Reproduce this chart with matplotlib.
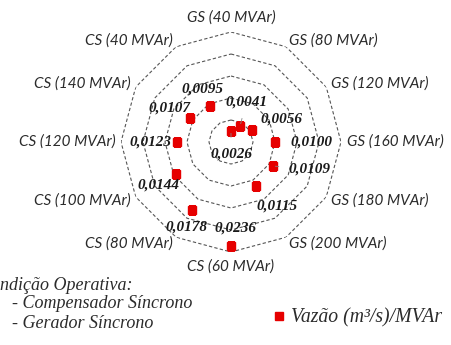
import matplotlib.pyplot as plt
import numpy as np

categories = ['GS (40 MVAr)', 'GS (80 MVAr)', 'GS (120 MVAr)', 'GS (160 MVAr)',
              'GS (180 MVAr)', 'GS (200 MVAr)', 'CS (60 MVAr)', 'CS (80 MVAr)',
              'CS (100 MVAr)', 'CS (120 MVAr)', 'CS (140 MVAr)', 'CS (40 MVAr)']
vazao = [0.0026, 0.0041, 0.0056, 0.0100, 0.0109, 0.0115,
         0.0236, 0.0178, 0.0144, 0.0123, 0.0107, 0.0095]
value_labels = ['0,0026', '0,0041', '0,0056', '0,0100', '0,0109', '0,0115',
                '0,0236', '0,0178', '0,0144', '0,0123', '0,0107', '0,0095']
ring_levels = [0.005, 0.010, 0.015, 0.020, 0.025]

# label offsets in pixels from each marker (dx, dy), and which get a leader line
label_offsets = [(0, -23), (6, 24), (29, 11), (36, 0), (37, -3), (21, -20),
                 (4, 18), (-5, -17), (-18, -11), (-26, 0), (-21, 10), (-8, 17)]
leaders = [True, True, False, False, True, False,
           False, False, False, False, False, False]

W, H = 452, 345
fig = plt.figure(figsize=(W / 100, H / 100), dpi=100)
cx, cy, R = 231, 142, 110
ax = fig.add_axes([(cx - R) / W, (H - cy - R) / H, 2 * R / W, 2 * R / H], projection='polar')
ax.set_theta_offset(np.pi / 2)
ax.set_theta_direction(-1)
ax.set_ylim(0, 0.025)
ax.grid(False)
ax.set_xticks([])
ax.set_yticks([])
ax.spines['polar'].set_visible(False)
ax.patch.set_visible(False)

n = len(categories)
angles = np.arange(n) * 2 * np.pi / n
closed = np.append(angles, angles[0])

for lv in ring_levels:
    ax.plot(closed, [lv] * (n + 1), color='#555555', lw=0.8, ls=(0, (3, 2)), zorder=1)

ax.plot(angles, vazao, ls='none', marker='s', ms=6, color='#e60000',
        label='Vazão (m³/s)/MVAr', zorder=3)

for a, v, t, (dx, dy), ld in zip(angles, vazao, value_labels, label_offsets, leaders):
    ax.annotate(t, xy=(a, v), xytext=(dx * 0.72, dy * 0.72), textcoords='offset points',
                ha='center', va='center', family='Liberation Serif', style='italic',
                weight='bold', fontsize=11, color='#1a1a1a', zorder=4,
                arrowprops=dict(arrowstyle='-', color='#888888', lw=0.6, shrinkA=5, shrinkB=2) if ld else None)

for a, c in zip(angles, categories):
    s, co = np.sin(a), np.cos(a)
    if abs(s) < 0.01:
        ha = 'center'
    elif s > 0:
        ha = 'left'
    else:
        ha = 'right'
    va = 'bottom' if co > 0.99 else ('top' if co < -0.99 else 'center')
    ax.annotate(c, xy=(a, 0.025), xytext=(s * 4, co * 5), textcoords='offset points',
                ha=ha, va=va, family='Lato', style='italic', fontsize=11, color='#2b2b2b')

fig.text(-0.046, 1 - 286 / H, 'Condição Operativa:', family='Liberation Serif', style='italic',
         fontsize=13, color='#2b2b2b', va='center')
fig.text(12 / W, 1 - 304 / H, '- Compensador Síncrono', family='Liberation Serif', style='italic',
         fontsize=13, color='#2b2b2b', va='center')
fig.text(12 / W, 1 - 323 / H, '- Gerador Síncrono', family='Liberation Serif', style='italic',
         fontsize=13, color='#2b2b2b', va='center')

fig.legend(loc='center left', bbox_to_anchor=(274 / W, 1 - 318 / H), frameon=False,
           handlelength=0.5, handletextpad=0.35, borderpad=0, borderaxespad=0,
           prop=dict(family='Liberation Serif', style='italic', size=14.2), labelcolor='#2b2b2b')

fig.savefig('out.png', dpi=100)
